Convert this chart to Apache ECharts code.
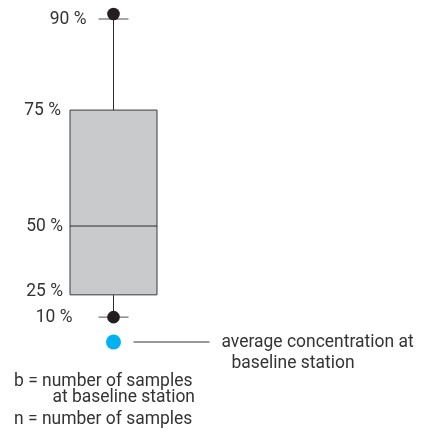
<!DOCTYPE html>
<html>
<head>
<meta charset="utf-8">
<script src="https://cdn.jsdelivr.net/npm/echarts@6/dist/echarts.min.js"></script>
<style>html,body{margin:0;padding:0;background:#fff}#c{width:421px;height:439px}</style>
</head>
<body>
<div id="c"></div>
<script>
// Schematic legend box plot: percentile levels and their schematic drawing heights
const percentileLabels = ['10 %', '25 %', '50 %', '75 %', '90 %'];
const schematicLevels = [7.7, 14.6, 35.9, 71.8, 100];
const averageLevel = [0];
const categories = ['legend'];
const averageText = ['average concentration at', 'baseline station'];
const noteTexts = ['b = number of samples', 'at baseline station', 'n = number of samples'];

const FONT = '"Roboto", "Liberation Sans", sans-serif';
const F = '18px ' + FONT;
const TXT = '#333333';

const chart = echarts.init(document.getElementById('c'), null, {renderer: 'canvas'});

function txt(text, x, y, align) {
  return {type: 'text', x: x, y: y, scaleX: 0.97, scaleY: 1,
    style: {text: text, x: 0, y: 0, textAlign: align, textVerticalAlign: 'middle', fill: TXT, font: F}};
}

function renderItem(params, api) {
  const lv = [api.value(1), api.value(2), api.value(3), api.value(4), api.value(5)];
  const avg = api.value(6);
  const p = lv.map(v => api.coord([api.value(0), v]));
  const cx = p[0][0];
  const w = api.size([1, 0])[0];
  const y = p.map(q => q[1]);
  const ya = api.coord([api.value(0), avg])[1];
  const left = cx - w / 2, right = cx + w / 2;
  const lineStyle = {stroke: '#2b2b2b', lineWidth: 1};
  const capStyle = {stroke: '#6b6b6b', lineWidth: 1.2};
  const children = [
    {type: 'line', shape: {x1: cx, y1: y[4], x2: cx, y2: y[3]}, style: lineStyle},
    {type: 'line', shape: {x1: cx, y1: y[1], x2: cx, y2: y[0]}, style: lineStyle},
    {type: 'rect', shape: {x: left, y: y[3], width: w, height: y[1] - y[3]},
      style: {fill: '#c9cacc', stroke: '#3a3a3a', lineWidth: 1}},
    {type: 'line', shape: {x1: left, y1: y[2], x2: right, y2: y[2]}, style: lineStyle},
    {type: 'line', shape: {x1: cx - 15, y1: y[4], x2: cx + 15, y2: y[4]}, style: capStyle},
    {type: 'line', shape: {x1: cx - 15, y1: y[0], x2: cx + 15, y2: y[0]}, style: capStyle},
    {type: 'circle', shape: {cx: cx, cy: y[4] - 5, r: 6.3}, style: {fill: '#231f20'}},
    {type: 'circle', shape: {cx: cx, cy: y[0], r: 6.3}, style: {fill: '#231f20'}},
    {type: 'circle', shape: {cx: cx, cy: ya, r: 7.5}, style: {fill: '#00b2ef'}},
    {type: 'line', shape: {x1: cx + 20, y1: ya, x2: cx + 96, y2: ya}, style: {stroke: '#333', lineWidth: 1}},
    txt(averageText[0], cx + 108, ya, 'left'),
    txt(averageText[1], cx + 118, ya + 21, 'left')
  ];
  const labelRight = [cx - 15 - 26, left - 7, left - 7, left - 9, cx - 15 - 12];
  for (let i = 0; i < percentileLabels.length; i++) {
    children.push(txt(percentileLabels[i], labelRight[i], y[i] + (i === 1 ? -3 : 0), 'right'));
  }
  return {type: 'group', children: children};
}

chart.setOption({
  animation: false,
  backgroundColor: '#fff',
  grid: {left: 70, width: 87, top: 19, height: 323},
  xAxis: {type: 'category', data: categories, show: false},
  yAxis: {type: 'value', min: 0, max: 100, show: false},
  graphic: [
    {type: 'text', x: 14, y: 381, scaleX: 0.97, style: {text: noteTexts[0], fill: TXT, font: F, textVerticalAlign: 'middle'}},
    {type: 'text', x: 195, y: 397, scaleX: 0.97, style: {text: noteTexts[1], fill: TXT, font: F, textAlign: 'right', textVerticalAlign: 'middle'}},
    {type: 'text', x: 14, y: 419, scaleX: 0.97, style: {text: noteTexts[2], fill: TXT, font: F, textVerticalAlign: 'middle'}}
  ],
  series: [{
    type: 'custom',
    renderItem: renderItem,
    data: [[0, ...schematicLevels, averageLevel[0]]],
    clip: false
  }]
});
</script>
</body>
</html>
